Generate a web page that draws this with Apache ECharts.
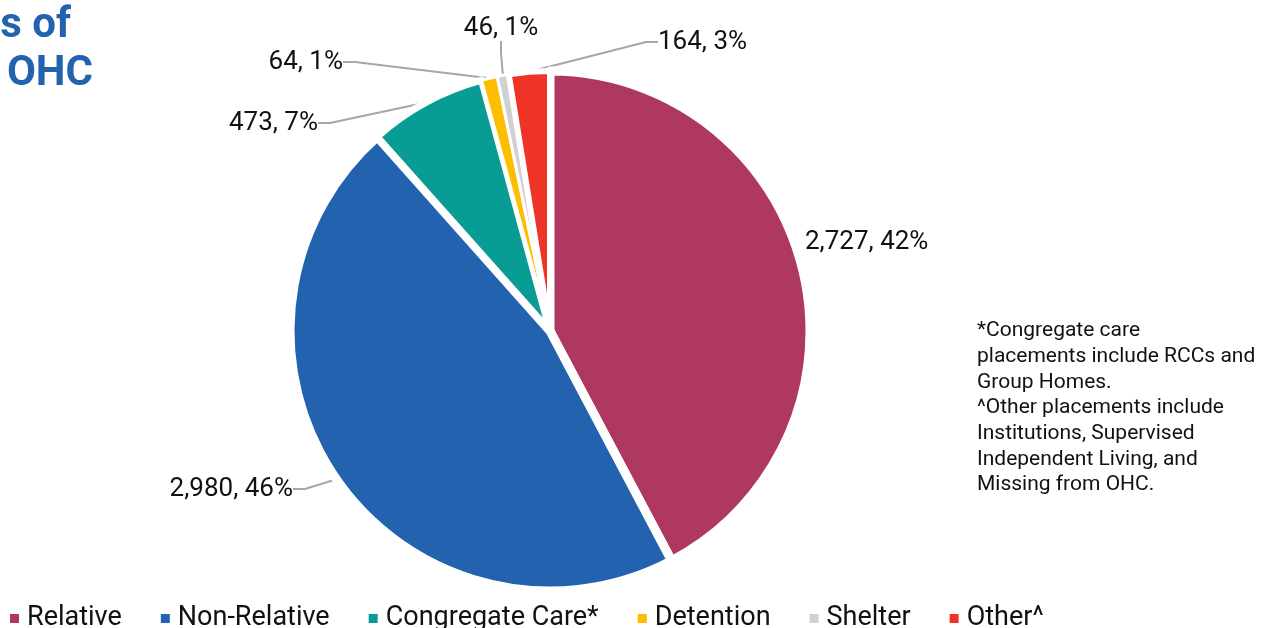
<!DOCTYPE html>
<html>
<head>
<meta charset="utf-8">
<script src="https://cdn.jsdelivr.net/npm/echarts@6/dist/echarts.min.js"></script>
<style>
html,body{margin:0;padding:0;background:#fff;}
#main{width:1277px;height:628px;}
</style>
</head>
<body>
<div id="main"></div>
<script>
const categories = ['Relative', 'Non-Relative', 'Congregate Care*', 'Detention', 'Shelter', 'Other^'];
const counts = [2727, 2980, 473, 64, 46, 164];
const colors = ['#AE3862', '#2262AE', '#089C94', '#FDBE00', '#D0D0D0', '#EE3427'];
const titleLines = ['s of', 'OHC'];
const footnoteLines = [
  '*Congregate care',
  'placements include RCCs and',
  'Group Homes.',
  '^Other placements include',
  'Institutions, Supervised',
  'Independent Living, and',
  'Missing from OHC.'
];

// label placement (layout/style only): [x, y, align, showLine]
const labelPlacement = [
  [805, 242, 'left', false],
  [293, 489, 'right', true],
  [318, 123, 'right', true],
  [343, 62, 'right', true],
  [501, 28, 'center', true],
  [658, 42, 'left', true]
];
// white separator width per slice (style only)
const sliceBorder = [9, 9, 7, 3, 3, 6];

const total = counts.reduce((a, b) => a + b, 0);
const fmt = v => v.toLocaleString('en-US');

const chart = echarts.init(document.getElementById('main'));
const option = {
  animation: false,
  backgroundColor: '#fff',
  color: colors,
  legend: {
    left: 3,
    top: 600,
    itemWidth: 11,
    itemHeight: 11,
    itemGap: 37,
    icon: 'rect',
    textStyle: { fontFamily: 'Roboto', fontSize: 27, color: '#111', padding: [0, 0, 0, 2] },
    data: categories
  },
  graphic: [
    {
      type: 'text', right: 1277 - 71, top: 5,
      style: { text: titleLines[0], font: 'bold 42px Roboto', fill: '#2262AE', textAlign: 'right' }
    },
    {
      type: 'text', right: 1277 - 93, top: 53,
      style: { text: titleLines[1], font: 'bold 42px Roboto', fill: '#2262AE', textAlign: 'right' }
    },
    {
      type: 'text', left: 977, top: 318,
      style: { text: footnoteLines.join('\n'), font: '21px Roboto', lineHeight: 25.7, fill: '#111' }
    }
  ],
  series: [{
    type: 'pie',
    center: [550, 331],
    radius: 260,
    startAngle: 90,
    clockwise: true,
    avoidLabelOverlap: false,
    itemStyle: { borderColor: '#fff', borderWidth: 9 },
    label: {
      show: true,
      fontFamily: 'Roboto',
      fontSize: 26,
      color: '#111',
      formatter: p => fmt(p.value) + ', ' + Math.round(p.value / total * 100) + '%'
    },
    labelLine: {
      show: true,
      length: 15, length2: 12,
      lineStyle: { color: '#A6A6A6', width: 2 }
    },
    labelLayout: function (params) {
      const p = labelPlacement[params.dataIndex];
      return { x: p[0], y: p[1], align: p[2], verticalAlign: 'middle' };
    },
    data: categories.map((c, i) => ({
      name: c,
      value: counts[i],
      itemStyle: { borderWidth: sliceBorder[i] },
      labelLine: { show: labelPlacement[i][3] }
    }))
  }]
};
chart.setOption(option);
</script>
</body>
</html>
